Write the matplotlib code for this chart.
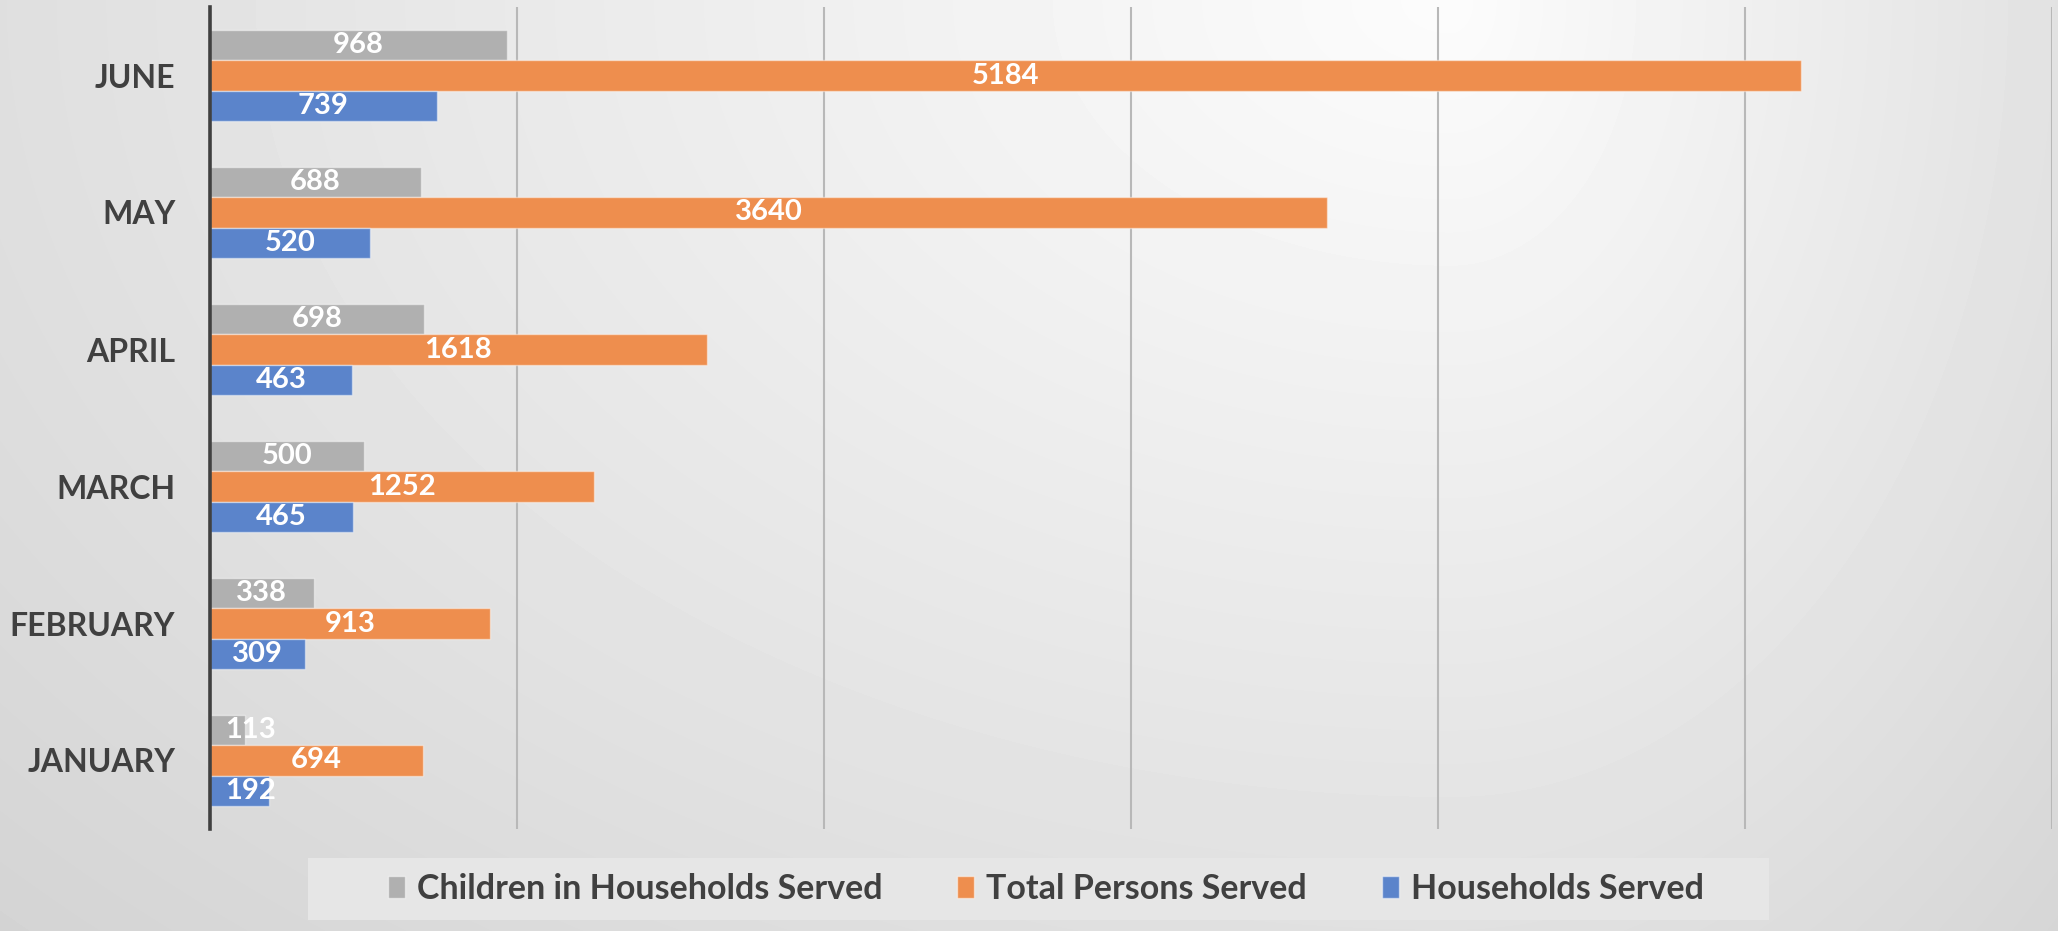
import numpy as np
import matplotlib
matplotlib.use('Agg')
import matplotlib.pyplot as plt
from matplotlib.patches import Patch, Rectangle

plt.rcParams['font.family'] = ['Lato', 'DejaVu Sans']

# data (bottom to top)
months = ['JANUARY', 'FEBRUARY', 'MARCH', 'APRIL', 'MAY', 'JUNE']
children = [113, 338, 500, 698, 688, 968]
total_persons = [694, 913, 1252, 1618, 3640, 5184]
households = [192, 309, 465, 463, 520, 739]

series_names = ['Children in Households Served', 'Total Persons Served', 'Households Served']
series_colors = ['#b0b0b0', '#ee8e4e', '#5b84cb']

W, H = 2058, 931
fig = plt.figure(figsize=(W / 100, H / 100), dpi=100)

# gradient background, brightest near the top right of centre
bg = fig.add_axes([0, 0, 1, 1], zorder=-10)
xx, yy = np.meshgrid(np.arange(W), np.arange(H))
nx = np.where(xx < 1450, (1450 - xx) / 1500, (xx - 1450) / 700)
ny = yy / 1000
r = np.sqrt(nx ** 2 + ny ** 2)
grad = np.clip(252 - 30 * r, 190, 255)
bg.imshow(grad, cmap='gray', vmin=0, vmax=255, aspect='auto', interpolation='bilinear')
bg.axis('off')

ax = fig.add_axes([210 / W, 1 - 829 / H, (2052 - 210) / W, (829 - 7) / H])
ax.patch.set_alpha(0)

y = np.arange(len(months))
bh = 0.222
offsets = [bh, 0, -bh]
all_vals = [children, total_persons, households]

for vals, off, col in zip(all_vals, offsets, series_colors):
    ax.barh(y + off, vals, height=bh, color=col,
            edgecolor=(1, 1, 1, 0.45), linewidth=1, zorder=3)
    for yi, v in zip(y + off, vals):
        if v < 250:
            ax.annotate(str(v), (0, yi), xytext=(11, 0), textcoords='offset points',
                        ha='left', va='center', color='white', fontsize=21,
                        fontweight='bold', zorder=4)
        else:
            ax.text(v / 2, yi, str(v), ha='center', va='center', color='white',
                    fontsize=21, fontweight='bold', zorder=4)

ax.set_xlim(0, 6000)
ax.set_ylim(-0.5, len(months) - 0.5)
ax.set_xticks(np.arange(0, 7000, 1000))
ax.xaxis.grid(True, color='#b8b8b8', linewidth=1.5, zorder=0)
ax.tick_params(axis='x', length=0, labelbottom=False)
ax.set_yticks(y)
ax.set_yticklabels(months, fontsize=23, fontweight='bold', color='#404040')
ax.tick_params(axis='y', length=0, pad=25)
for s in ['top', 'right', 'bottom']:
    ax.spines[s].set_visible(False)
ax.spines['left'].set_color('#404040')
ax.spines['left'].set_linewidth(2.6)
ax.spines['left'].set_zorder(5)

# legend box
fig.patches.append(Rectangle((308 / W, 1 - 920 / H), (1769 - 308) / W, 62 / H,
                             transform=fig.transFigure, facecolor='#e6e6e6',
                             edgecolor='none', zorder=1))
handles = [Patch(facecolor=c, edgecolor=(1, 1, 1, 0.5)) for c in series_colors]
leg = fig.legend(handles, series_names, loc='center', bbox_to_anchor=(1046 / W, 1 - 889 / H),
                 ncol=3, frameon=False, handlelength=0.5, handleheight=0.6,
                 handletextpad=0.35, columnspacing=2.2,
                 prop={'size': 24.5, 'weight': 'bold'})
for t in leg.get_texts():
    t.set_color('#404040')

fig.savefig('out.png', dpi=100)
